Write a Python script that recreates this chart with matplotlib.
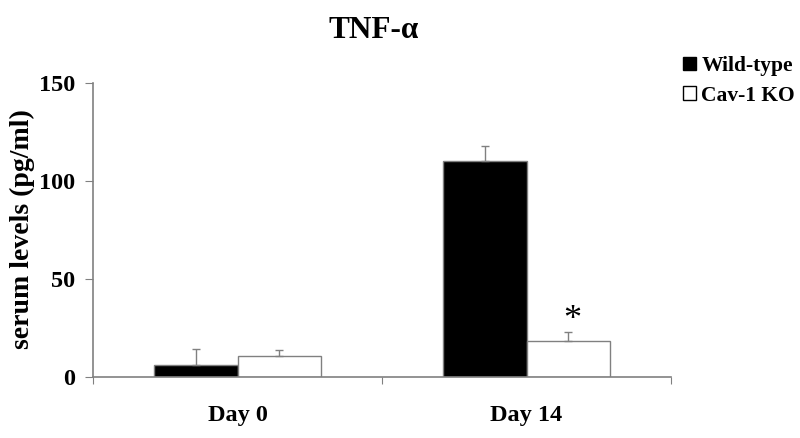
import matplotlib
matplotlib.use("Agg")
import matplotlib.pyplot as plt
from matplotlib.patches import Patch
import numpy as np

categories = ["Day 0", "Day 14"]
series_names = ["Wild-type", "Cav-1 KO"]
wt_values = [6.0, 110.0]
wt_err = [8.2, 8.0]
ko_values = [10.7, 18.5]
ko_err = [3.1, 4.5]
yticks = [0, 50, 100, 150]

plt.rcParams['font.family'] = ['Liberation Serif', 'DejaVu Serif']
plt.rcParams['font.weight'] = 'bold'

fig = plt.figure(figsize=(8, 4.38), dpi=100)
ax = fig.add_axes([93/800, 1-377/438, 578/800, 294/438])

gray = '#808080'
centers = np.arange(len(categories)) + 0.5
w = 0.29
ax.bar(centers - w/2, wt_values, width=w, color='black', edgecolor=gray, linewidth=1,
       yerr=[np.zeros(len(wt_err)), wt_err], ecolor=gray,
       error_kw=dict(capsize=3, elinewidth=1, capthick=1), label=series_names[0])
ax.bar(centers + w/2, ko_values, width=w, color='white', edgecolor=gray, linewidth=1,
       yerr=[np.zeros(len(ko_err)), ko_err], ecolor=gray,
       error_kw=dict(capsize=3, elinewidth=1, capthick=1), label=series_names[1])

ax.text(centers[1] + w/2 + 0.015, ko_values[1] + ko_err[1] + 6, '*', ha='center', va='center',
        fontsize=26, fontweight='normal')

ax.set_xlim(0, 2)
ax.set_ylim(0, 150)
ax.set_yticks(yticks)
ax.set_yticklabels([str(t) for t in yticks], fontsize=17.5, fontweight='bold')
ax.set_xticks([0, 1, 2])
ax.set_xticklabels([])
ax.set_xticks(centers, minor=True)
ax.set_xticklabels(categories, minor=True, fontsize=17.5, fontweight='bold')
ax.tick_params(axis='x', which='minor', length=0, pad=20)
ax.tick_params(axis='x', which='major', direction='out', length=5, color=gray)
ax.tick_params(axis='y', direction='out', length=6, color=gray, pad=7)

for s in ['top', 'right']:
    ax.spines[s].set_visible(False)
for s in ['left', 'bottom']:
    ax.spines[s].set_color(gray)
    ax.spines[s].set_linewidth(1.2)

ax.set_ylabel('serum levels (pg/ml)', fontsize=20, fontweight='bold')
ax.yaxis.set_label_coords(-(93-35)/578, (377-229)/294)

fig.text(374/800, 1-30/438, 'TNF-α', ha='center', va='center', fontsize=22.5, fontweight='bold')

handles = [Patch(facecolor='black', edgecolor='black'),
           Patch(facecolor='white', edgecolor='black')]
fig.legend(handles, series_names, loc='upper left', bbox_to_anchor=(683/800, 1-56/438),
           frameon=False, prop={'weight': 'bold', 'size': 15.5},
           handlelength=0.6, handleheight=0.6, handletextpad=0.25, labelspacing=0.45,
           borderpad=0, borderaxespad=0)

fig.savefig('out.png', dpi=100)
